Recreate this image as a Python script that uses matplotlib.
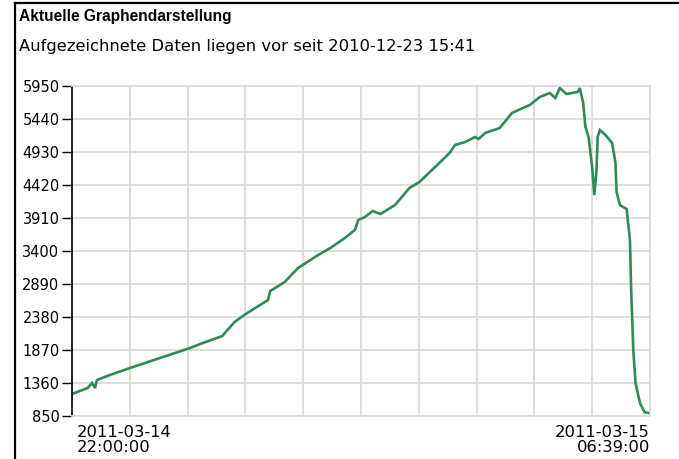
import matplotlib
matplotlib.use("Agg")
import matplotlib.pyplot as plt
from matplotlib.lines import Line2D
from matplotlib.transforms import blended_transform_factory, ScaledTranslation
import numpy as np

# minutes since 2011-03-14 22:00:00
minutes = [0, 7, 14, 18, 20.7, 22.4, 34, 52, 79, 106, 115, 130, 135, 138, 146, 156,
           176, 178, 191, 203, 221, 232, 245, 254, 257, 263, 270, 277, 290, 303, 312,
           326, 339, 344, 353, 362, 365, 371, 384, 395, 411, 420, 429, 434, 438, 444,
           454, 456, 459, 461, 464, 467, 469, 471, 472, 474, 479, 485, 488, 489, 492,
           498, 501, 502, 504, 506, 510, 514, 519]
values = [1185, 1232, 1278, 1355, 1278, 1402, 1479, 1587, 1742, 1896, 1958, 2051, 2082,
          2143, 2298, 2422, 2638, 2777, 2916, 3133, 3333, 3442, 3596, 3720, 3874, 3920,
          4013, 3967, 4106, 4369, 4462, 4693, 4910, 5034, 5080, 5157, 5126, 5219, 5296,
          5528, 5652, 5775, 5837, 5760, 5914, 5822, 5853, 5914, 5683, 5312, 5142, 4693,
          4261, 4647, 5157, 5265, 5188, 5064, 4755, 4307, 4106, 4044, 3565, 2839, 1865,
          1355, 1046, 907, 885]

y_ticks = [850, 1360, 1870, 2380, 2890, 3400, 3910, 4420, 4930, 5440, 5950]
x_start_label = "2011-03-14\n22:00:00"
x_end_label = "2011-03-15\n06:39:00"
x_end = 519
title = "Aktuelle Graphendarstellung"
subtitle = "Aufgezeichnete Daten liegen vor seit 2010-12-23 15:41"

W, H = 679, 459
fig = plt.figure(figsize=(W / 100, H / 100), dpi=100)
fig.patch.set_facecolor("white")

# frame lines
fig.add_artist(Line2D([15 / W, 15 / W], [0, 1 - 3 / H], color="black", lw=1.6))
fig.add_artist(Line2D([15 / W, 1], [1 - 3 / H, 1 - 3 / H], color="black", lw=1.6))

fig.text(19 / W, 1 - 16 / H, title, fontsize=11.2, fontweight="bold",
         family="Liberation Sans", va="center", ha="left")
fig.text(19 / W, 1 - 46 / H, subtitle, fontsize=11.8, family="DejaVu Sans",
         va="center", ha="left")

left, right = 72 / W, 650 / W
bottom, top = 1 - 415.7 / H, 1 - 85.7 / H
ax = fig.add_axes([left, bottom, right - left, top - bottom])

grid_c = "#dddbd6"
ax.plot(minutes, values, color="#2e8b57", lw=1.9, solid_joinstyle="miter")
ax.set_xlim(0, x_end)
ax.set_ylim(y_ticks[0], y_ticks[-1])

ax.set_yticks(y_ticks)
ax.set_yticklabels([str(v) for v in y_ticks], fontsize=10.5, family="DejaVu Sans")
ax.tick_params(axis="y", length=7, width=1, color="black", pad=2)

xt = np.linspace(0, x_end, 11)
ax.set_xticks(xt)
ax.set_xticklabels([""] * 11)
ax.tick_params(axis="x", length=0)

tr = blended_transform_factory(ax.transData, ax.transAxes)
ax.text(0, 0, x_start_label, transform=tr + ScaledTranslation(5 / 100, -9 / 100, fig.dpi_scale_trans),
        ha="left", va="top", fontsize=11.8, family="DejaVu Sans", linespacing=1.0)
ax.text(x_end, 0, x_end_label, transform=tr + ScaledTranslation(0, -9 / 100, fig.dpi_scale_trans),
        ha="right", va="top", fontsize=11.8, family="DejaVu Sans", linespacing=1.0)

ax.grid(True, color=grid_c, lw=1.3)
ax.set_axisbelow(True)
for s in ["top", "right", "bottom"]:
    ax.spines[s].set_color(grid_c)
    ax.spines[s].set_linewidth(1.3)
ax.spines["left"].set_color("black")
ax.spines["left"].set_linewidth(1.2)

fig.savefig("out.png", dpi=100)
